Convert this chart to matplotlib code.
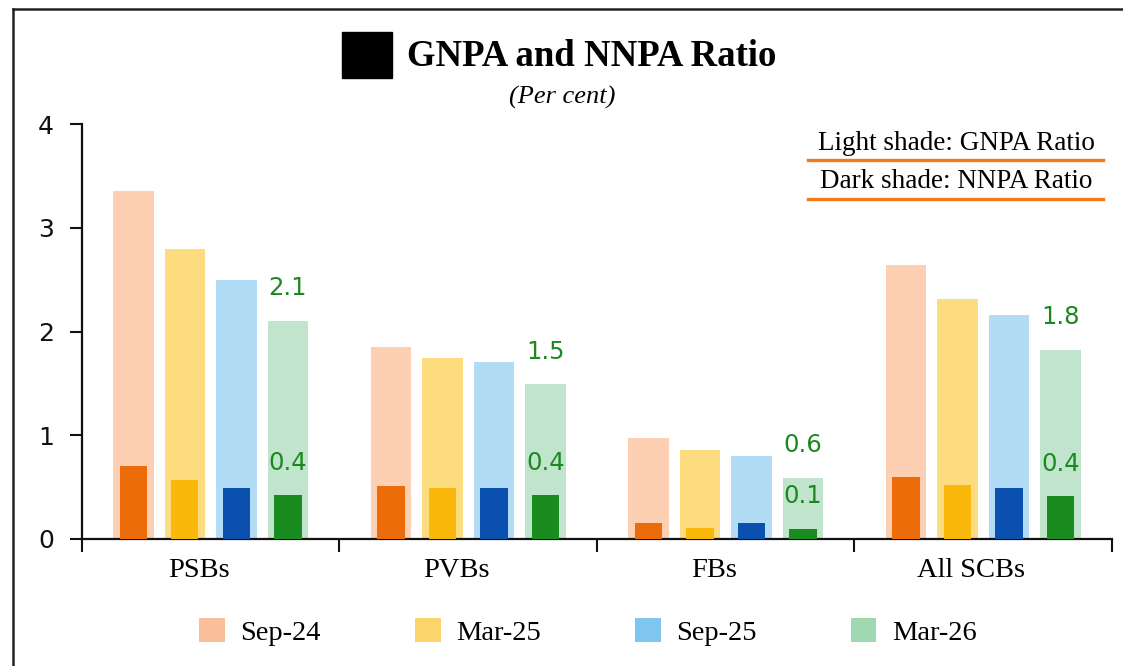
import numpy as np
import matplotlib
matplotlib.use("Agg")
import matplotlib.pyplot as plt
from matplotlib.patches import Rectangle, Patch
from matplotlib.lines import Line2D

# data
categories = ["PSBs", "PVBs", "FBs", "All SCBs"]
periods = ["Sep-24", "Mar-25", "Sep-25", "Mar-26"]
gnpa = {
    "Sep-24": [3.35, 1.85, 0.97, 2.64],
    "Mar-25": [2.80, 1.74, 0.86, 2.31],
    "Sep-25": [2.50, 1.71, 0.80, 2.16],
    "Mar-26": [2.10, 1.49, 0.59, 1.82],
}
nnpa = {
    "Sep-24": [0.70, 0.51, 0.15, 0.60],
    "Mar-25": [0.57, 0.49, 0.11, 0.52],
    "Sep-25": [0.49, 0.49, 0.15, 0.49],
    "Mar-26": [0.42, 0.42, 0.10, 0.41],
}
label_gnpa = ["2.1", "1.5", "0.6", "1.8"]
label_nnpa = ["0.4", "0.4", "0.1", "0.4"]

light = ["#FDD0B3", "#FDDC80", "#B2DCF6", "#C0E4CC"]
dark = ["#EC6C0A", "#FBB80C", "#0B4FAF", "#1A8B1F"]
legend_cols = ["#FBBE9B", "#FCD46C", "#7EC5F0", "#A0D8B2"]
green = "#1A8A1F"

serif = "Liberation Serif"

fig = plt.figure(figsize=(11.23, 6.66), dpi=100)
ax = fig.add_axes([0.0730, 0.1907, 0.9172, 0.6231])

x = np.arange(len(categories))
offsets = [-0.3, -0.1, 0.1, 0.3]
for i, p in enumerate(periods):
    ax.bar(x + offsets[i], gnpa[p], width=0.156, color=light[i], zorder=2)
    ax.bar(x + offsets[i], nnpa[p], width=0.105, color=dark[i], zorder=3)

# value labels on last period
for j in range(len(categories)):
    ax.annotate(label_gnpa[j], (x[j] + 0.3, gnpa["Mar-26"][j]), xytext=(0, 15),
                textcoords="offset points", ha="center", va="bottom",
                color=green, fontsize=17.5, family="DejaVu Sans")
    ax.annotate(label_nnpa[j], (x[j] + 0.3, nnpa["Mar-26"][j]), xytext=(0, 15),
                textcoords="offset points", ha="center", va="bottom",
                color=green, fontsize=17.5, family="DejaVu Sans")

ax.set_xlim(-0.5, 3.5)
ax.set_ylim(0, 4)
ax.set_yticks([0, 1, 2, 3, 4])
ax.tick_params(axis="y", length=9, width=1.5, labelsize=18, pad=11, colors="#111111")
for lab in ax.get_yticklabels():
    lab.set_family("DejaVu Sans")

ax.set_xticks(np.arange(-0.5, 4.0, 1.0))
ax.set_xticklabels([])
ax.tick_params(axis="x", length=9, width=1.5, direction="out", colors="#111111")
ax.set_xticks(x - 0.047, minor=True)
ax.set_xticklabels(categories, minor=True, fontsize=20.5, family=serif)
ax.tick_params(axis="x", which="minor", length=0, pad=14)

for s in ["top", "right"]:
    ax.spines[s].set_visible(False)
for s in ["left", "bottom"]:
    ax.spines[s].set_linewidth(1.6)
    ax.spines[s].set_color("#111111")

# title block
fig.add_artist(Rectangle((342 / 1123, 1 - 78 / 666), 50 / 1123, 46 / 666,
                         transform=fig.transFigure, color="black"))
fig.text(407 / 1123, 1 - 66 / 666, "GNPA and NNPA Ratio", fontsize=26.5,
         fontweight="bold", family=serif, va="baseline", ha="left")
fig.text(562 / 1123, 1 - 97 / 666, "(Per cent)", fontsize=19, style="italic",
         family=serif, ha="center", va="center")

# shade notes
fig.text(956 / 1123, 1 - 143 / 666, "Light shade: GNPA Ratio", fontsize=19.5,
         family=serif, ha="center", va="center")
fig.text(956 / 1123, 1 - 182 / 666, "Dark shade: NNPA Ratio", fontsize=19.5,
         family=serif, ha="center", va="center")
for yy in [160, 199]:
    fig.add_artist(Line2D([808 / 1123, 1103 / 1123], [1 - yy / 666] * 2,
                          color="#F07A1A", lw=2.4, transform=fig.transFigure))

# frame
fig.add_artist(Line2D([13 / 1123, 13 / 1123], [0, 1 - 9 / 666], color="#222222",
                      lw=1.8, transform=fig.transFigure))
fig.add_artist(Line2D([13 / 1123, 1], [1 - 9 / 666] * 2, color="#222222",
                      lw=1.8, transform=fig.transFigure))

handles = [Patch(facecolor=c, edgecolor="none") for c in legend_cols]
fig.legend(handles, periods, loc="center", bbox_to_anchor=(588 / 1123, 0.051),
           ncol=4, frameon=False, prop={"family": serif, "size": 20.5},
           handlelength=0.9, handleheight=0.9, handletextpad=0.55,
           columnspacing=3.3)

fig.savefig("out.png", dpi=100)
